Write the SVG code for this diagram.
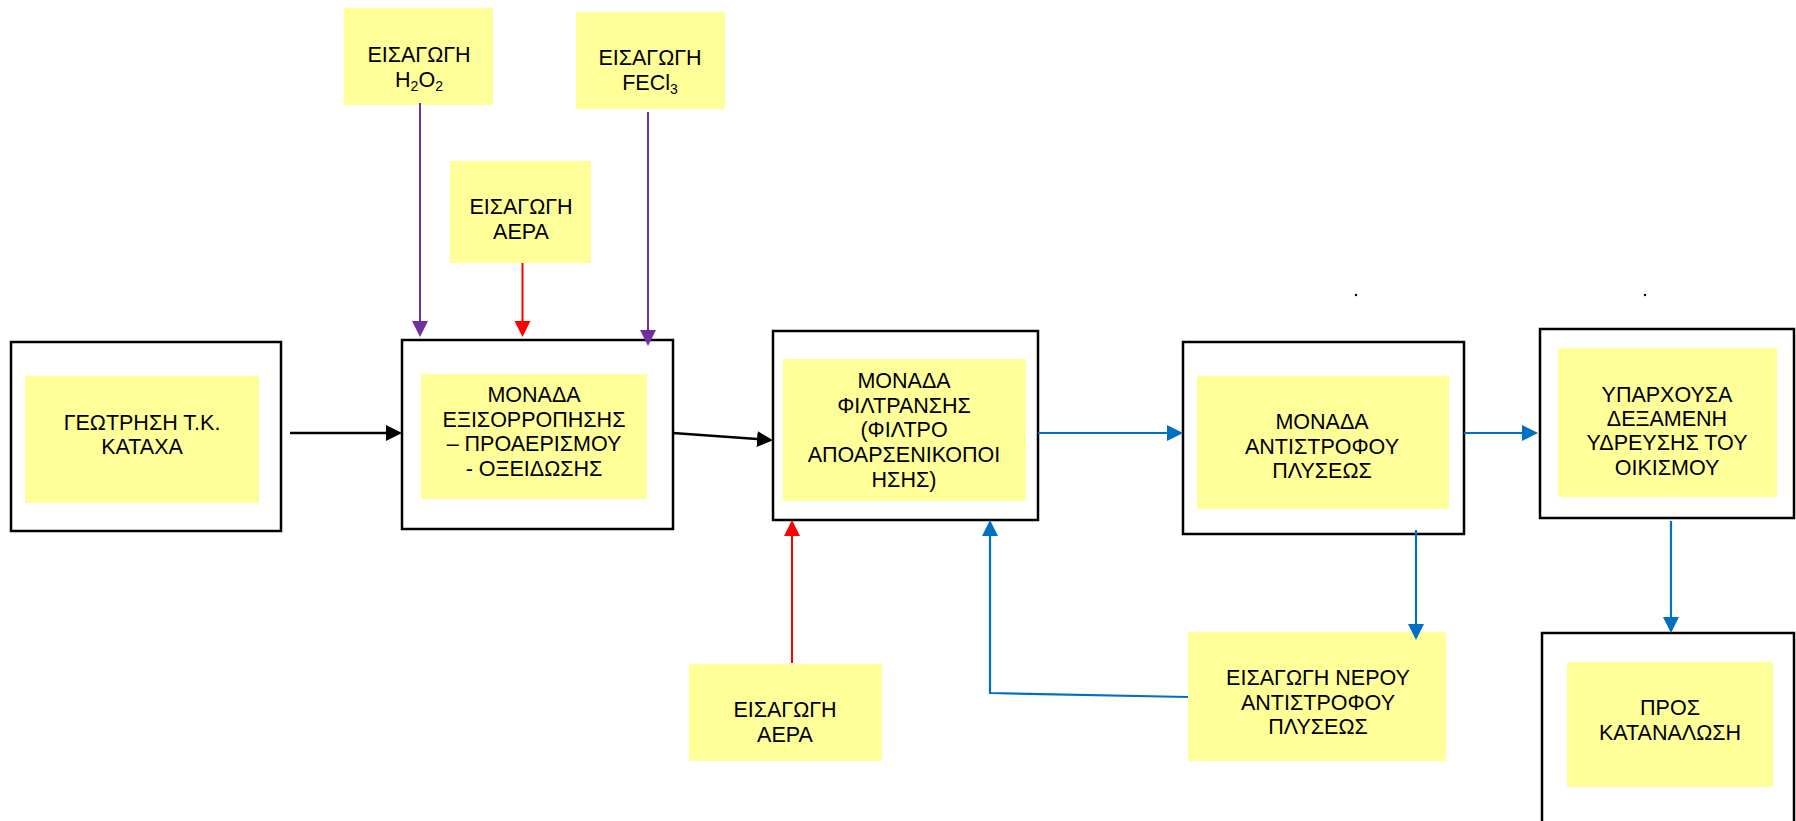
<svg xmlns="http://www.w3.org/2000/svg" width="1796" height="821" viewBox="0 0 1796 821">
<defs>
<style>
.frame{fill:#fff;stroke:#000;stroke-width:2.5}
.note{fill:#FFFF99}
.t{font-family:"Liberation Sans",Arial,sans-serif;font-size:21.5px;fill:#000;text-anchor:middle}
.sub{font-size:14px}
.c{fill:none;stroke-width:2}
.blk{stroke:#000;stroke-width:2.5}
.pur{stroke:#7030A0}
.red{stroke:#FF0000}
.blu{stroke:#0070C0;stroke-width:2.2}
</style>
<marker id="aBlk" markerUnits="userSpaceOnUse" markerWidth="17" markerHeight="17" refX="13" refY="8" orient="auto"><path d="M0,0 L16,8 L0,16 z" fill="#000"/></marker>
<marker id="aPur" markerUnits="userSpaceOnUse" markerWidth="17" markerHeight="17" refX="13" refY="8" orient="auto"><path d="M0,0 L16,8 L0,16 z" fill="#7030A0"/></marker>
<marker id="aRed" markerUnits="userSpaceOnUse" markerWidth="17" markerHeight="17" refX="13" refY="8" orient="auto"><path d="M0,0 L16,8 L0,16 z" fill="#FF0000"/></marker>
<marker id="aBlu" markerUnits="userSpaceOnUse" markerWidth="17" markerHeight="17" refX="13" refY="8" orient="auto"><path d="M0,0 L16,8 L0,16 z" fill="#0070C0"/></marker>
</defs>
<rect width="1796" height="821" fill="#fff"/>

<g id="n-geotrisi">
<rect class="frame" x="11" y="342" width="270" height="189"/>
<rect class="note" x="25" y="376" width="234" height="127"/>
<text class="t" x="142" y="430">ΓΕΩΤΡΗΣΗ Τ.Κ.</text>
<text class="t" x="142" y="454">ΚΑΤΑΧΑ</text>
</g>

<g id="n-exisorropisi">
<rect class="frame" x="402" y="340" width="271" height="189"/>
<rect class="note" x="421" y="374" width="226" height="125"/>
<text class="t" x="534" y="402">ΜΟΝΑΔΑ</text>
<text class="t" x="534" y="427">ΕΞΙΣΟΡΡΟΠΗΣΗΣ</text>
<text class="t" x="534" y="451">– ΠΡΟΑΕΡΙΣΜΟΥ</text>
<text class="t" x="534" y="476">- ΟΞΕΙΔΩΣΗΣ</text>
</g>

<g id="n-filtransi">
<rect class="frame" x="773" y="331" width="265" height="189"/>
<rect class="note" x="783" y="359" width="243" height="142"/>
<text class="t" x="904" y="388">ΜΟΝΑΔΑ</text>
<text class="t" x="904" y="413">ΦΙΛΤΡΑΝΣΗΣ</text>
<text class="t" x="904" y="437">(ΦΙΛΤΡΟ</text>
<text class="t" x="904" y="462">ΑΠΟΑΡΣΕΝΙΚΟΠΟΙ</text>
<text class="t" x="904" y="487">ΗΣΗΣ)</text>
</g>

<g id="n-antistrofi">
<rect class="frame" x="1183" y="342" width="281" height="192"/>
<rect class="note" x="1197" y="376" width="252" height="133"/>
<text class="t" x="1322" y="429">ΜΟΝΑΔΑ</text>
<text class="t" x="1322" y="454">ΑΝΤΙΣΤΡΟΦΟΥ</text>
<text class="t" x="1322" y="478">ΠΛΥΣΕΩΣ</text>
</g>

<g id="n-dexameni">
<rect class="frame" x="1540" y="329" width="254" height="189"/>
<rect class="note" x="1558" y="348" width="219" height="149"/>
<text class="t" x="1667" y="402">ΥΠΑΡΧΟΥΣΑ</text>
<text class="t" x="1667" y="426">ΔΕΞΑΜΕΝΗ</text>
<text class="t" x="1667" y="450">ΥΔΡΕΥΣΗΣ ΤΟΥ</text>
<text class="t" x="1667" y="475">ΟΙΚΙΣΜΟΥ</text>
</g>

<g id="n-katanalosi">
<rect class="frame" x="1542" y="633" width="252" height="200"/>
<rect class="note" x="1567" y="662" width="206" height="125"/>
<text class="t" x="1670" y="715">ΠΡΟΣ</text>
<text class="t" x="1670" y="740">ΚΑΤΑΝΑΛΩΣΗ</text>
</g>

<g id="n-h2o2">
<rect class="note" x="344" y="8" width="149" height="97"/>
<text class="t" x="419" y="62">ΕΙΣΑΓΩΓΗ</text>
<text class="t" x="419" y="87">H<tspan class="sub" dy="4">2</tspan><tspan dy="-4">O</tspan><tspan class="sub" dy="4">2</tspan></text>
</g>

<g id="n-fecl3">
<rect class="note" x="576" y="12" width="149" height="97"/>
<text class="t" x="650" y="65">ΕΙΣΑΓΩΓΗ</text>
<text class="t" x="650" y="90">FECl<tspan class="sub" dy="4">3</tspan></text>
</g>

<g id="n-aera-top">
<rect class="note" x="450" y="161" width="141" height="102"/>
<text class="t" x="521" y="214">ΕΙΣΑΓΩΓΗ</text>
<text class="t" x="521" y="239">ΑΕΡΑ</text>
</g>

<g id="n-aera-bottom">
<rect class="note" x="689" y="664" width="193" height="97"/>
<text class="t" x="785" y="717">ΕΙΣΑΓΩΓΗ</text>
<text class="t" x="785" y="742">ΑΕΡΑ</text>
</g>

<g id="n-nero">
<rect class="note" x="1188" y="632" width="258" height="129"/>
<text class="t" x="1318" y="685">ΕΙΣΑΓΩΓΗ ΝΕΡΟΥ</text>
<text class="t" x="1318" y="710">ΑΝΤΙΣΤΡΟΦΟΥ</text>
<text class="t" x="1318" y="734">ΠΛΥΣΕΩΣ</text>
</g>

<g id="dots">
<circle cx="1356" cy="295" r="1.2" fill="#000"/>
<circle cx="1645" cy="295" r="1.2" fill="#000"/>
</g>

<g id="connectors">
<path class="c pur" d="M420,103 L420,334" marker-end="url(#aPur)"/>
<path class="c red" d="M522.5,263 L522.5,334" marker-end="url(#aRed)"/>
<path class="c pur" d="M648,112 L648,343" marker-end="url(#aPur)"/>
<path class="c blk" d="M290,433 L399,433" marker-end="url(#aBlk)"/>
<path class="c blk" d="M673,433 L770,440" marker-end="url(#aBlk)"/>
<path class="c blu" d="M1038,433 L1180,433" marker-end="url(#aBlu)"/>
<path class="c blu" d="M1464,433 L1535,433" marker-end="url(#aBlu)"/>
<path class="c red" d="M792,663 L792,523" marker-end="url(#aRed)"/>
<path class="c blu" d="M1188,697 L990,693 L990,523" marker-end="url(#aBlu)"/>
<path class="c blu" d="M1416,530 L1416,637" marker-end="url(#aBlu)"/>
<path class="c blu" d="M1671,521 L1671,630" marker-end="url(#aBlu)"/>
</g>
</svg>
